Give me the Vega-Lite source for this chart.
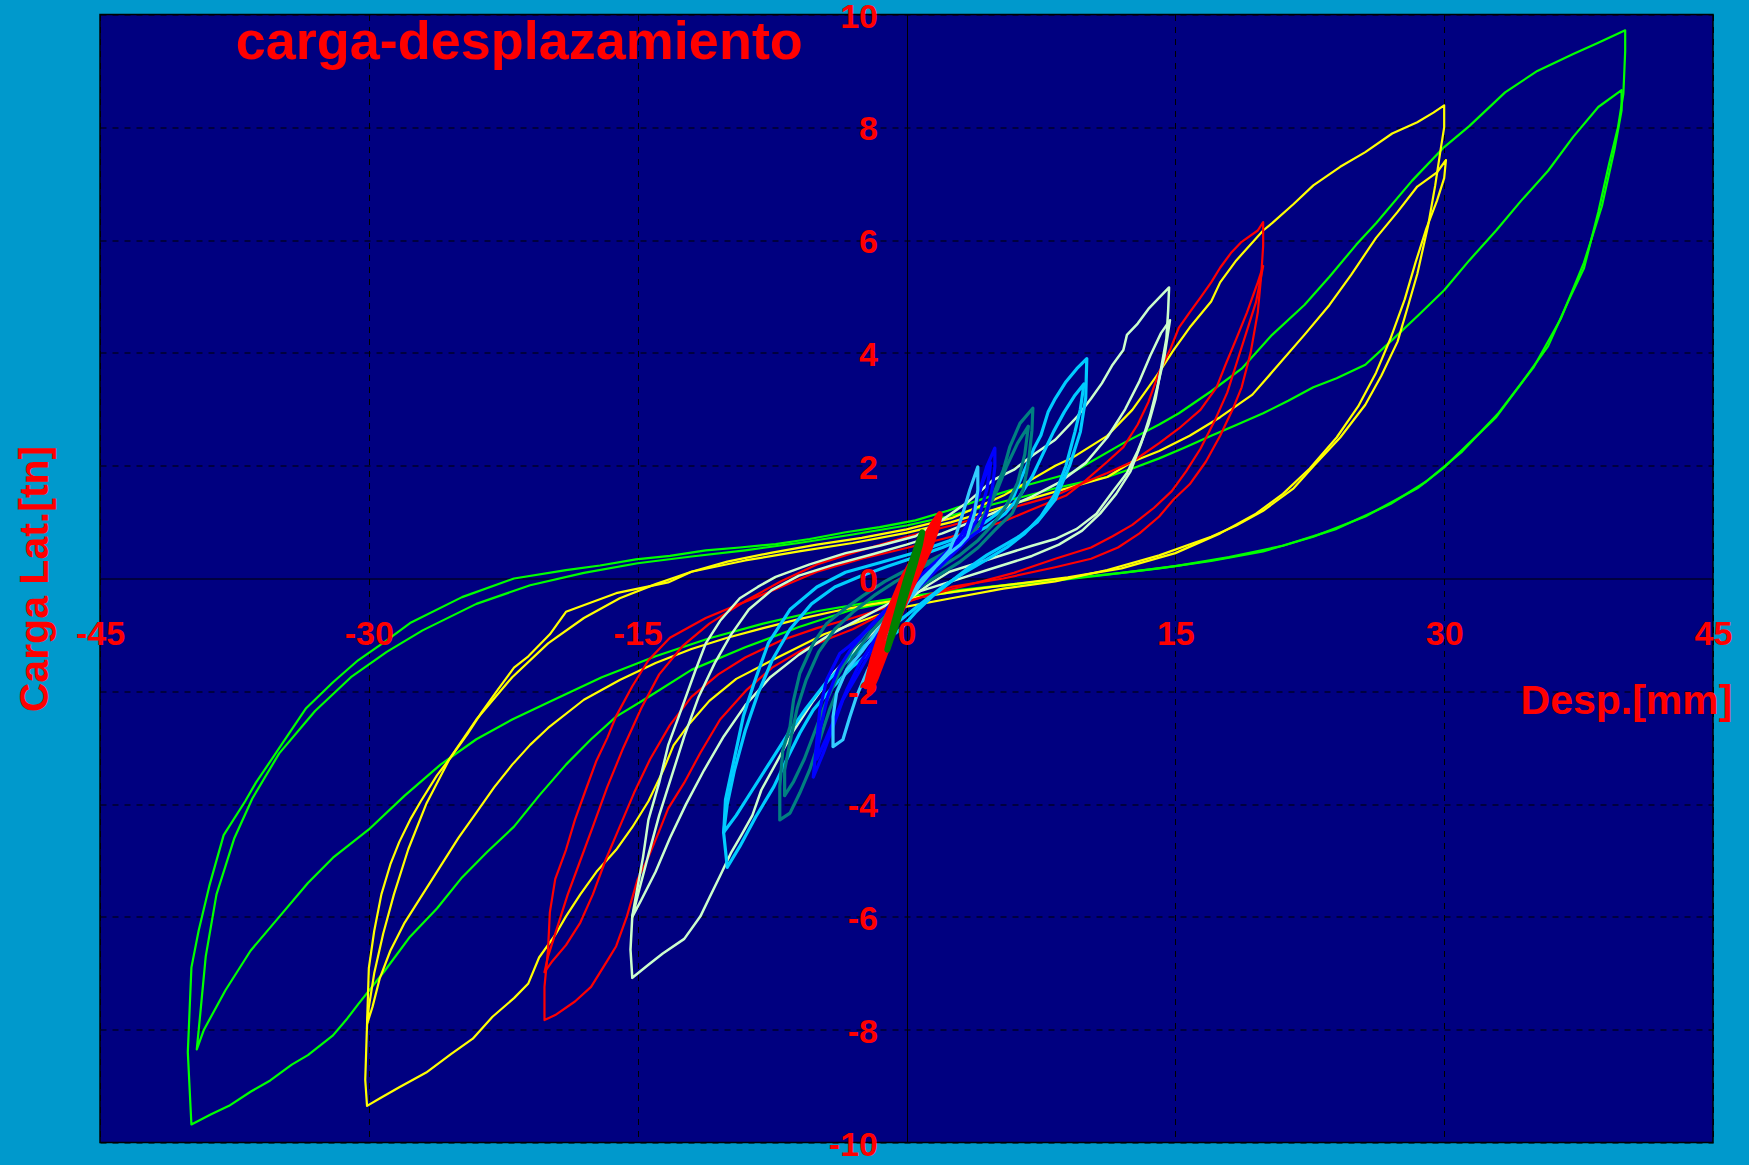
{
  "$schema": "https://vega.github.io/schema/vega-lite/v6.json",
  "width": 1613,
  "height": 1128,
  "autosize": {"type": "none"},
  "padding": {"left": 100, "top": 14.5, "right": 36, "bottom": 22.5},
  "background": "#0099CC",
  "config": {
    "view": {"fill": "#000080", "stroke": "#000000", "strokeWidth": 1.5},
    "font": "Liberation Sans"
  },
  "datasets": {
    "lazos": [
      {"serie":"40","ciclo":"40a","desp":-39.9,"carga":-9.68},{"serie":"40","ciclo":"40a","desp":-38.8,"carga":-9.5},{"serie":"40","ciclo":"40a","desp":-37.8,"carga":-9.35},{"serie":"40","ciclo":"40a","desp":-36.6,"carga":-9.1},{"serie":"40","ciclo":"40a","desp":-35.5,"carga":-8.9},{"serie":"40","ciclo":"40a","desp":-34.3,"carga":-8.62},{"serie":"40","ciclo":"40a","desp":-33.4,"carga":-8.45},{"serie":"40","ciclo":"40a","desp":-32.0,"carga":-8.1},{"serie":"40","ciclo":"40a","desp":-31.2,"carga":-7.8},{"serie":"40","ciclo":"40a","desp":-30.6,"carga":-7.55},{"serie":"40","ciclo":"40a","desp":-29.1,"carga":-6.95},{"serie":"40","ciclo":"40a","desp":-27.7,"carga":-6.35},{"serie":"40","ciclo":"40a","desp":-26.2,"carga":-5.85},{"serie":"40","ciclo":"40a","desp":-24.8,"carga":-5.3},{"serie":"40","ciclo":"40a","desp":-23.4,"carga":-4.85},{"serie":"40","ciclo":"40a","desp":-21.9,"carga":-4.4},{"serie":"40","ciclo":"40a","desp":-20.5,"carga":-3.85},{"serie":"40","ciclo":"40a","desp":-19.0,"carga":-3.3},{"serie":"40","ciclo":"40a","desp":-17.6,"carga":-2.85},{"serie":"40","ciclo":"40a","desp":-16.2,"carga":-2.45},{"serie":"40","ciclo":"40a","desp":-14.4,"carga":-2.1},{"serie":"40","ciclo":"40a","desp":-12.0,"carga":-1.62},{"serie":"40","ciclo":"40a","desp":-9.0,"carga":-1.22},{"serie":"40","ciclo":"40a","desp":-6.0,"carga":-0.86},{"serie":"40","ciclo":"40a","desp":-3.0,"carga":-0.55},{"serie":"40","ciclo":"40a","desp":0.0,"carga":-0.36},{"serie":"40","ciclo":"40a","desp":2.4,"carga":-0.25},{"serie":"40","ciclo":"40a","desp":5.0,"carga":-0.14},{"serie":"40","ciclo":"40a","desp":8.3,"carga":-0.04},{"serie":"40","ciclo":"40a","desp":11.2,"carga":0.07},{"serie":"40","ciclo":"40a","desp":14.1,"carga":0.18},{"serie":"40","ciclo":"40a","desp":17.0,"carga":0.31},{"serie":"40","ciclo":"40a","desp":19.9,"carga":0.48},{"serie":"40","ciclo":"40a","desp":22.7,"carga":0.74},{"serie":"40","ciclo":"40a","desp":25.6,"carga":1.1},{"serie":"40","ciclo":"40a","desp":28.5,"carga":1.6},{"serie":"40","ciclo":"40a","desp":30.0,"carga":1.97},{"serie":"40","ciclo":"40a","desp":31.4,"carga":2.4},{"serie":"40","ciclo":"40a","desp":32.9,"carga":2.86},{"serie":"40","ciclo":"40a","desp":34.3,"carga":3.46},{"serie":"40","ciclo":"40a","desp":35.8,"carga":4.12},{"serie":"40","ciclo":"40a","desp":36.9,"carga":4.9},{"serie":"40","ciclo":"40a","desp":37.8,"carga":5.5},{"serie":"40","ciclo":"40a","desp":38.6,"carga":6.5},{"serie":"40","ciclo":"40a","desp":39.2,"carga":7.35},{"serie":"40","ciclo":"40a","desp":39.7,"carga":8.0},{"serie":"40","ciclo":"40a","desp":40.0,"carga":8.6},{"serie":"40","ciclo":"40a","desp":40.1,"carga":9.35},{"serie":"40","ciclo":"40a","desp":40.1,"carga":9.72},{"serie":"40","ciclo":"40a","desp":38.6,"carga":9.5},{"serie":"40","ciclo":"40a","desp":37.2,"carga":9.3},{"serie":"40","ciclo":"40a","desp":35.2,"carga":9.0},{"serie":"40","ciclo":"40a","desp":33.4,"carga":8.62},{"serie":"40","ciclo":"40a","desp":31.4,"carga":8.02},{"serie":"40","ciclo":"40a","desp":30.0,"carga":7.65},{"serie":"40","ciclo":"40a","desp":28.2,"carga":7.05},{"serie":"40","ciclo":"40a","desp":26.2,"carga":6.3},{"serie":"40","ciclo":"40a","desp":25.1,"carga":5.92},{"serie":"40","ciclo":"40a","desp":23.6,"carga":5.35},{"serie":"40","ciclo":"40a","desp":22.2,"carga":4.85},{"serie":"40","ciclo":"40a","desp":20.4,"carga":4.32},{"serie":"40","ciclo":"40a","desp":18.7,"carga":3.72},{"serie":"40","ciclo":"40a","desp":17.0,"carga":3.32},{"serie":"40","ciclo":"40a","desp":15.2,"carga":2.93},{"serie":"40","ciclo":"40a","desp":14.1,"carga":2.73},{"serie":"40","ciclo":"40a","desp":12.1,"carga":2.4},{"serie":"40","ciclo":"40a","desp":9.2,"carga":1.87},{"serie":"40","ciclo":"40a","desp":6.9,"carga":1.67},{"serie":"40","ciclo":"40a","desp":4.8,"carga":1.47},{"serie":"40","ciclo":"40a","desp":2.3,"carga":1.2},{"serie":"40","ciclo":"40a","desp":0.5,"carga":1.03},{"serie":"40","ciclo":"40a","desp":-1.5,"carga":0.91},{"serie":"40","ciclo":"40a","desp":-3.4,"carga":0.82},{"serie":"40","ciclo":"40a","desp":-5.4,"carga":0.7},{"serie":"40","ciclo":"40a","desp":-7.3,"carga":0.61},{"serie":"40","ciclo":"40a","desp":-9.3,"carga":0.55},{"serie":"40","ciclo":"40a","desp":-11.2,"carga":0.5},{"serie":"40","ciclo":"40a","desp":-13.2,"carga":0.4},{"serie":"40","ciclo":"40a","desp":-15.1,"carga":0.34},{"serie":"40","ciclo":"40a","desp":-17.1,"carga":0.23},{"serie":"40","ciclo":"40a","desp":-19.0,"carga":0.15},{"serie":"40","ciclo":"40a","desp":-21.9,"carga":0.0},{"serie":"40","ciclo":"40a","desp":-24.8,"carga":-0.33},{"serie":"40","ciclo":"40a","desp":-27.7,"carga":-0.79},{"serie":"40","ciclo":"40a","desp":-29.1,"carga":-1.12},{"serie":"40","ciclo":"40a","desp":-30.6,"carga":-1.45},{"serie":"40","ciclo":"40a","desp":-32.0,"carga":-1.84},{"serie":"40","ciclo":"40a","desp":-33.5,"carga":-2.3},{"serie":"40","ciclo":"40a","desp":-34.9,"carga":-2.96},{"serie":"40","ciclo":"40a","desp":-36.3,"carga":-3.62},{"serie":"40","ciclo":"40a","desp":-36.9,"carga":-3.95},{"serie":"40","ciclo":"40a","desp":-38.1,"carga":-4.55},{"serie":"40","ciclo":"40a","desp":-38.9,"carga":-5.45},{"serie":"40","ciclo":"40a","desp":-39.5,"carga":-6.25},{"serie":"40","ciclo":"40a","desp":-39.9,"carga":-6.9},{"serie":"40","ciclo":"40a","desp":-40.1,"carga":-8.4},{"serie":"40","ciclo":"40a","desp":-39.9,"carga":-9.68},

      {"serie":"40","ciclo":"40b","desp":-39.6,"carga":-8.35},{"serie":"40","ciclo":"40b","desp":-39.2,"carga":-8.0},{"serie":"40","ciclo":"40b","desp":-38.0,"carga":-7.3},{"serie":"40","ciclo":"40b","desp":-36.6,"carga":-6.6},{"serie":"40","ciclo":"40b","desp":-35.0,"carga":-6.0},{"serie":"40","ciclo":"40b","desp":-33.4,"carga":-5.4},{"serie":"40","ciclo":"40b","desp":-32.0,"carga":-4.95},{"serie":"40","ciclo":"40b","desp":-30.0,"carga":-4.45},{"serie":"40","ciclo":"40b","desp":-28.0,"carga":-3.85},{"serie":"40","ciclo":"40b","desp":-26.0,"carga":-3.3},{"serie":"40","ciclo":"40b","desp":-24.0,"carga":-2.85},{"serie":"40","ciclo":"40b","desp":-22.0,"carga":-2.5},{"serie":"40","ciclo":"40b","desp":-20.0,"carga":-2.2},{"serie":"40","ciclo":"40b","desp":-17.0,"carga":-1.75},{"serie":"40","ciclo":"40b","desp":-14.0,"carga":-1.38},{"serie":"40","ciclo":"40b","desp":-11.0,"carga":-1.06},{"serie":"40","ciclo":"40b","desp":-8.0,"carga":-0.8},{"serie":"40","ciclo":"40b","desp":-5.0,"carga":-0.58},{"serie":"40","ciclo":"40b","desp":-2.0,"carga":-0.42},{"serie":"40","ciclo":"40b","desp":0.0,"carga":-0.32},{"serie":"40","ciclo":"40b","desp":3.0,"carga":-0.2},{"serie":"40","ciclo":"40b","desp":6.0,"carga":-0.1},{"serie":"40","ciclo":"40b","desp":9.0,"carga":0.0},{"serie":"40","ciclo":"40b","desp":12.0,"carga":0.1},{"serie":"40","ciclo":"40b","desp":15.0,"carga":0.22},{"serie":"40","ciclo":"40b","desp":18.0,"carga":0.38},{"serie":"40","ciclo":"40b","desp":21.0,"carga":0.58},{"serie":"40","ciclo":"40b","desp":24.0,"carga":0.88},{"serie":"40","ciclo":"40b","desp":27.0,"carga":1.32},{"serie":"40","ciclo":"40b","desp":29.0,"carga":1.72},{"serie":"40","ciclo":"40b","desp":31.0,"carga":2.25},{"serie":"40","ciclo":"40b","desp":33.0,"carga":2.92},{"serie":"40","ciclo":"40b","desp":35.0,"carga":3.75},{"serie":"40","ciclo":"40b","desp":36.5,"carga":4.6},{"serie":"40","ciclo":"40b","desp":37.8,"carga":5.6},{"serie":"40","ciclo":"40b","desp":38.8,"carga":6.6},{"serie":"40","ciclo":"40b","desp":39.5,"carga":7.6},{"serie":"40","ciclo":"40b","desp":39.9,"carga":8.3},{"serie":"40","ciclo":"40b","desp":39.9,"carga":8.66},{"serie":"40","ciclo":"40b","desp":38.6,"carga":8.36},{"serie":"40","ciclo":"40b","desp":37.2,"carga":7.83},{"serie":"40","ciclo":"40b","desp":35.8,"carga":7.23},{"serie":"40","ciclo":"40b","desp":34.3,"carga":6.7},{"serie":"40","ciclo":"40b","desp":32.9,"carga":6.17},{"serie":"40","ciclo":"40b","desp":31.4,"carga":5.64},{"serie":"40","ciclo":"40b","desp":30.0,"carga":5.11},{"serie":"40","ciclo":"40b","desp":28.5,"carga":4.65},{"serie":"40","ciclo":"40b","desp":27.0,"carga":4.2},{"serie":"40","ciclo":"40b","desp":25.6,"carga":3.79},{"serie":"40","ciclo":"40b","desp":24.0,"carga":3.55},{"serie":"40","ciclo":"40b","desp":22.7,"carga":3.39},{"serie":"40","ciclo":"40b","desp":21.3,"carga":3.15},{"serie":"40","ciclo":"40b","desp":19.9,"carga":2.93},{"serie":"40","ciclo":"40b","desp":18.4,"carga":2.72},{"serie":"40","ciclo":"40b","desp":17.0,"carga":2.53},{"serie":"40","ciclo":"40b","desp":15.5,"carga":2.32},{"serie":"40","ciclo":"40b","desp":14.1,"carga":2.13},{"serie":"40","ciclo":"40b","desp":12.6,"carga":1.95},{"serie":"40","ciclo":"40b","desp":11.2,"carga":1.8},{"serie":"40","ciclo":"40b","desp":9.7,"carga":1.7},{"serie":"40","ciclo":"40b","desp":8.3,"carga":1.6},{"serie":"40","ciclo":"40b","desp":6.5,"carga":1.45},{"serie":"40","ciclo":"40b","desp":5.0,"carga":1.33},{"serie":"40","ciclo":"40b","desp":2.3,"carga":1.1},{"serie":"40","ciclo":"40b","desp":0.0,"carga":0.94},{"serie":"40","ciclo":"40b","desp":-3.0,"carga":0.78},{"serie":"40","ciclo":"40b","desp":-6.0,"carga":0.63},{"serie":"40","ciclo":"40b","desp":-9.0,"carga":0.5},{"serie":"40","ciclo":"40b","desp":-12.0,"carga":0.39},{"serie":"40","ciclo":"40b","desp":-15.0,"carga":0.27},{"serie":"40","ciclo":"40b","desp":-18.0,"carga":0.1},{"serie":"40","ciclo":"40b","desp":-21.0,"carga":-0.12},{"serie":"40","ciclo":"40b","desp":-24.0,"carga":-0.45},{"serie":"40","ciclo":"40b","desp":-27.0,"carga":-0.92},{"serie":"40","ciclo":"40b","desp":-29.0,"carga":-1.3},{"serie":"40","ciclo":"40b","desp":-31.0,"carga":-1.75},{"serie":"40","ciclo":"40b","desp":-33.0,"carga":-2.35},{"serie":"40","ciclo":"40b","desp":-35.0,"carga":-3.1},{"serie":"40","ciclo":"40b","desp":-36.5,"carga":-3.9},{"serie":"40","ciclo":"40b","desp":-37.5,"carga":-4.6},{"serie":"40","ciclo":"40b","desp":-38.5,"carga":-5.6},{"serie":"40","ciclo":"40b","desp":-39.1,"carga":-6.7},{"serie":"40","ciclo":"40b","desp":-39.4,"carga":-7.7},{"serie":"40","ciclo":"40b","desp":-39.6,"carga":-8.35},

      {"serie":"30","ciclo":"30a","desp":-30.1,"carga":-9.35},{"serie":"30","ciclo":"30a","desp":-29.4,"carga":-9.22},{"serie":"30","ciclo":"30a","desp":-28.3,"carga":-9.02},{"serie":"30","ciclo":"30a","desp":-26.8,"carga":-8.76},{"serie":"30","ciclo":"30a","desp":-25.4,"carga":-8.43},{"serie":"30","ciclo":"30a","desp":-24.2,"carga":-8.16},{"serie":"30","ciclo":"30a","desp":-23.1,"carga":-7.77},{"serie":"30","ciclo":"30a","desp":-21.9,"carga":-7.44},{"serie":"30","ciclo":"30a","desp":-21.1,"carga":-7.18},{"serie":"30","ciclo":"30a","desp":-20.5,"carga":-6.72},{"serie":"30","ciclo":"30a","desp":-19.6,"carga":-6.32},{"serie":"30","ciclo":"30a","desp":-19.0,"carga":-5.99},{"serie":"30","ciclo":"30a","desp":-18.2,"carga":-5.6},{"serie":"30","ciclo":"30a","desp":-17.3,"carga":-5.2},{"serie":"30","ciclo":"30a","desp":-16.2,"carga":-4.81},{"serie":"30","ciclo":"30a","desp":-15.3,"carga":-4.41},{"serie":"30","ciclo":"30a","desp":-14.4,"carga":-3.95},{"serie":"30","ciclo":"30a","desp":-13.6,"carga":-3.42},{"serie":"30","ciclo":"30a","desp":-13.0,"carga":-2.96},{"serie":"30","ciclo":"30a","desp":-12.1,"carga":-2.57},{"serie":"30","ciclo":"30a","desp":-11.0,"carga":-2.17},{"serie":"30","ciclo":"30a","desp":-9.5,"carga":-1.78},{"serie":"30","ciclo":"30a","desp":-7.5,"carga":-1.45},{"serie":"30","ciclo":"30a","desp":-4.6,"carga":-0.99},{"serie":"30","ciclo":"30a","desp":-1.7,"carga":-0.66},{"serie":"30","ciclo":"30a","desp":0.0,"carga":-0.5},{"serie":"30","ciclo":"30a","desp":2.5,"carga":-0.35},{"serie":"30","ciclo":"30a","desp":5.4,"carga":-0.18},{"serie":"30","ciclo":"30a","desp":8.3,"carga":-0.05},{"serie":"30","ciclo":"30a","desp":11.2,"carga":0.15},{"serie":"30","ciclo":"30a","desp":14.1,"carga":0.41},{"serie":"30","ciclo":"30a","desp":17.0,"carga":0.74},{"serie":"30","ciclo":"30a","desp":18.4,"carga":0.94},{"serie":"30","ciclo":"30a","desp":19.9,"carga":1.2},{"serie":"30","ciclo":"30a","desp":21.6,"carga":1.6},{"serie":"30","ciclo":"30a","desp":22.7,"carga":1.99},{"serie":"30","ciclo":"30a","desp":24.2,"carga":2.5},{"serie":"30","ciclo":"30a","desp":25.6,"carga":3.08},{"serie":"30","ciclo":"30a","desp":26.5,"carga":3.6},{"serie":"30","ciclo":"30a","desp":27.4,"carga":4.2},{"serie":"30","ciclo":"30a","desp":28.0,"carga":4.85},{"serie":"30","ciclo":"30a","desp":28.5,"carga":5.4},{"serie":"30","ciclo":"30a","desp":29.1,"carga":6.25},{"serie":"30","ciclo":"30a","desp":29.5,"carga":6.97},{"serie":"30","ciclo":"30a","desp":29.8,"carga":7.6},{"serie":"30","ciclo":"30a","desp":30.0,"carga":8.0},{"serie":"30","ciclo":"30a","desp":30.0,"carga":8.39},{"serie":"30","ciclo":"30a","desp":29.4,"carga":8.26},{"serie":"30","ciclo":"30a","desp":28.5,"carga":8.09},{"serie":"30","ciclo":"30a","desp":27.1,"carga":7.89},{"serie":"30","ciclo":"30a","desp":25.6,"carga":7.56},{"serie":"30","ciclo":"30a","desp":24.2,"carga":7.3},{"serie":"30","ciclo":"30a","desp":22.7,"carga":6.97},{"serie":"30","ciclo":"30a","desp":21.6,"carga":6.64},{"serie":"30","ciclo":"30a","desp":20.4,"carga":6.3},{"serie":"30","ciclo":"30a","desp":19.9,"carga":6.17},{"serie":"30","ciclo":"30a","desp":18.4,"carga":5.64},{"serie":"30","ciclo":"30a","desp":17.5,"carga":5.25},{"serie":"30","ciclo":"30a","desp":17.0,"carga":4.91},{"serie":"30","ciclo":"30a","desp":15.8,"carga":4.45},{"serie":"30","ciclo":"30a","desp":14.9,"carga":4.05},{"serie":"30","ciclo":"30a","desp":14.1,"carga":3.66},{"serie":"30","ciclo":"30a","desp":13.5,"carga":3.39},{"serie":"30","ciclo":"30a","desp":12.6,"carga":2.99},{"serie":"30","ciclo":"30a","desp":11.2,"carga":2.53},{"serie":"30","ciclo":"30a","desp":9.2,"carga":2.13},{"serie":"30","ciclo":"30a","desp":8.3,"carga":2.0},{"serie":"30","ciclo":"30a","desp":6.9,"carga":1.74},{"serie":"30","ciclo":"30a","desp":5.4,"carga":1.47},{"serie":"30","ciclo":"30a","desp":4.0,"carga":1.27},{"serie":"30","ciclo":"30a","desp":2.5,"carga":1.07},{"serie":"30","ciclo":"30a","desp":0.0,"carga":0.87},{"serie":"30","ciclo":"30a","desp":-2.5,"carga":0.72},{"serie":"30","ciclo":"30a","desp":-5.0,"carga":0.6},{"serie":"30","ciclo":"30a","desp":-7.5,"carga":0.46},{"serie":"30","ciclo":"30a","desp":-10.0,"carga":0.3},{"serie":"30","ciclo":"30a","desp":-12.0,"carga":0.12},{"serie":"30","ciclo":"30a","desp":-13.3,"carga":-0.07},{"serie":"30","ciclo":"30a","desp":-16.2,"carga":-0.26},{"serie":"30","ciclo":"30a","desp":-19.0,"carga":-0.59},{"serie":"30","ciclo":"30a","desp":-19.9,"carga":-0.99},{"serie":"30","ciclo":"30a","desp":-21.1,"carga":-1.38},{"serie":"30","ciclo":"30a","desp":-21.9,"carga":-1.58},{"serie":"30","ciclo":"30a","desp":-22.8,"carga":-1.97},{"serie":"30","ciclo":"30a","desp":-23.7,"carga":-2.37},{"serie":"30","ciclo":"30a","desp":-24.5,"carga":-2.76},{"serie":"30","ciclo":"30a","desp":-25.4,"carga":-3.16},{"serie":"30","ciclo":"30a","desp":-26.2,"carga":-3.49},{"serie":"30","ciclo":"30a","desp":-27.1,"carga":-3.95},{"serie":"30","ciclo":"30a","desp":-27.7,"carga":-4.28},{"serie":"30","ciclo":"30a","desp":-28.3,"carga":-4.67},{"serie":"30","ciclo":"30a","desp":-28.8,"carga":-5.07},{"serie":"30","ciclo":"30a","desp":-29.3,"carga":-5.6},{"serie":"30","ciclo":"30a","desp":-29.7,"carga":-6.25},{"serie":"30","ciclo":"30a","desp":-30.0,"carga":-6.91},{"serie":"30","ciclo":"30a","desp":-30.1,"carga":-7.9},{"serie":"30","ciclo":"30a","desp":-30.2,"carga":-8.89},{"serie":"30","ciclo":"30a","desp":-30.1,"carga":-9.35},

      {"serie":"30","ciclo":"30b","desp":-30.1,"carga":-7.9},{"serie":"30","ciclo":"30b","desp":-29.8,"carga":-7.6},{"serie":"30","ciclo":"30b","desp":-29.4,"carga":-7.1},{"serie":"30","ciclo":"30b","desp":-28.8,"carga":-6.6},{"serie":"30","ciclo":"30b","desp":-28.0,"carga":-6.1},{"serie":"30","ciclo":"30b","desp":-27.0,"carga":-5.6},{"serie":"30","ciclo":"30b","desp":-26.0,"carga":-5.1},{"serie":"30","ciclo":"30b","desp":-25.0,"carga":-4.6},{"serie":"30","ciclo":"30b","desp":-24.0,"carga":-4.15},{"serie":"30","ciclo":"30b","desp":-23.0,"carga":-3.7},{"serie":"30","ciclo":"30b","desp":-22.0,"carga":-3.3},{"serie":"30","ciclo":"30b","desp":-21.0,"carga":-2.95},{"serie":"30","ciclo":"30b","desp":-20.0,"carga":-2.65},{"serie":"30","ciclo":"30b","desp":-18.0,"carga":-2.15},{"serie":"30","ciclo":"30b","desp":-16.0,"carga":-1.8},{"serie":"30","ciclo":"30b","desp":-14.0,"carga":-1.5},{"serie":"30","ciclo":"30b","desp":-12.0,"carga":-1.25},{"serie":"30","ciclo":"30b","desp":-10.0,"carga":-1.05},{"serie":"30","ciclo":"30b","desp":-8.0,"carga":-0.88},{"serie":"30","ciclo":"30b","desp":-6.0,"carga":-0.72},{"serie":"30","ciclo":"30b","desp":-4.0,"carga":-0.58},{"serie":"30","ciclo":"30b","desp":-2.0,"carga":-0.46},{"serie":"30","ciclo":"30b","desp":0.0,"carga":-0.36},{"serie":"30","ciclo":"30b","desp":3.0,"carga":-0.22},{"serie":"30","ciclo":"30b","desp":6.0,"carga":-0.1},{"serie":"30","ciclo":"30b","desp":9.0,"carga":0.02},{"serie":"30","ciclo":"30b","desp":12.0,"carga":0.18},{"serie":"30","ciclo":"30b","desp":15.0,"carga":0.45},{"serie":"30","ciclo":"30b","desp":17.5,"carga":0.8},{"serie":"30","ciclo":"30b","desp":19.5,"carga":1.15},{"serie":"30","ciclo":"30b","desp":21.0,"carga":1.5},{"serie":"30","ciclo":"30b","desp":22.5,"carga":1.95},{"serie":"30","ciclo":"30b","desp":24.0,"carga":2.5},{"serie":"30","ciclo":"30b","desp":25.2,"carga":3.05},{"serie":"30","ciclo":"30b","desp":26.2,"carga":3.65},{"serie":"30","ciclo":"30b","desp":27.0,"carga":4.25},{"serie":"30","ciclo":"30b","desp":27.8,"carga":4.95},{"serie":"30","ciclo":"30b","desp":28.4,"carga":5.6},{"serie":"30","ciclo":"30b","desp":29.0,"carga":6.2},{"serie":"30","ciclo":"30b","desp":29.6,"carga":6.7},{"serie":"30","ciclo":"30b","desp":30.0,"carga":7.1},{"serie":"30","ciclo":"30b","desp":30.1,"carga":7.42},{"serie":"30","ciclo":"30b","desp":29.6,"carga":7.2},{"serie":"30","ciclo":"30b","desp":28.5,"carga":6.95},{"serie":"30","ciclo":"30b","desp":27.4,"carga":6.5},{"serie":"30","ciclo":"30b","desp":26.2,"carga":6.04},{"serie":"30","ciclo":"30b","desp":24.8,"carga":5.38},{"serie":"30","ciclo":"30b","desp":23.6,"carga":4.85},{"serie":"30","ciclo":"30b","desp":22.2,"carga":4.32},{"serie":"30","ciclo":"30b","desp":20.4,"carga":3.66},{"serie":"30","ciclo":"30b","desp":19.3,"carga":3.26},{"serie":"30","ciclo":"30b","desp":17.5,"carga":2.86},{"serie":"30","ciclo":"30b","desp":15.8,"carga":2.53},{"serie":"30","ciclo":"30b","desp":14.1,"carga":2.26},{"serie":"30","ciclo":"30b","desp":12.6,"carga":2.07},{"serie":"30","ciclo":"30b","desp":11.2,"carga":1.8},{"serie":"30","ciclo":"30b","desp":8.3,"carga":1.54},{"serie":"30","ciclo":"30b","desp":5.4,"carga":1.27},{"serie":"30","ciclo":"30b","desp":2.5,"carga":1.0},{"serie":"30","ciclo":"30b","desp":0.0,"carga":0.81},{"serie":"30","ciclo":"30b","desp":-3.0,"carga":0.63},{"serie":"30","ciclo":"30b","desp":-6.0,"carga":0.48},{"serie":"30","ciclo":"30b","desp":-9.0,"carga":0.32},{"serie":"30","ciclo":"30b","desp":-12.0,"carga":0.12},{"serie":"30","ciclo":"30b","desp":-14.0,"carga":-0.1},{"serie":"30","ciclo":"30b","desp":-16.0,"carga":-0.35},{"serie":"30","ciclo":"30b","desp":-18.0,"carga":-0.7},{"serie":"30","ciclo":"30b","desp":-20.0,"carga":-1.15},{"serie":"30","ciclo":"30b","desp":-22.0,"carga":-1.75},{"serie":"30","ciclo":"30b","desp":-24.0,"carga":-2.5},{"serie":"30","ciclo":"30b","desp":-25.5,"carga":-3.2},{"serie":"30","ciclo":"30b","desp":-26.8,"carga":-4.0},{"serie":"30","ciclo":"30b","desp":-27.8,"carga":-4.8},{"serie":"30","ciclo":"30b","desp":-28.6,"carga":-5.6},{"serie":"30","ciclo":"30b","desp":-29.2,"carga":-6.3},{"serie":"30","ciclo":"30b","desp":-29.7,"carga":-7.0},{"serie":"30","ciclo":"30b","desp":-30.0,"carga":-7.6},{"serie":"30","ciclo":"30b","desp":-30.1,"carga":-7.9},

      {"serie":"20","ciclo":"20a","desp":-20.2,"carga":-7.83},{"serie":"20","ciclo":"20a","desp":-19.6,"carga":-7.74},{"serie":"20","ciclo":"20a","desp":-18.5,"carga":-7.5},{"serie":"20","ciclo":"20a","desp":-17.6,"carga":-7.24},{"serie":"20","ciclo":"20a","desp":-16.7,"carga":-6.78},{"serie":"20","ciclo":"20a","desp":-16.2,"carga":-6.52},{"serie":"20","ciclo":"20a","desp":-15.6,"carga":-5.99},{"serie":"20","ciclo":"20a","desp":-15.0,"carga":-5.33},{"serie":"20","ciclo":"20a","desp":-14.4,"carga":-4.94},{"serie":"20","ciclo":"20a","desp":-13.8,"carga":-4.48},{"serie":"20","ciclo":"20a","desp":-13.3,"carga":-4.08},{"serie":"20","ciclo":"20a","desp":-12.4,"carga":-3.62},{"serie":"20","ciclo":"20a","desp":-11.5,"carga":-3.09},{"serie":"20","ciclo":"20a","desp":-10.4,"carga":-2.5},{"serie":"20","ciclo":"20a","desp":-8.9,"carga":-1.97},{"serie":"20","ciclo":"20a","desp":-7.5,"carga":-1.58},{"serie":"20","ciclo":"20a","desp":-6.0,"carga":-1.3},{"serie":"20","ciclo":"20a","desp":-4.6,"carga":-1.1},{"serie":"20","ciclo":"20a","desp":-3.0,"carga":-0.9},{"serie":"20","ciclo":"20a","desp":-1.5,"carga":-0.65},{"serie":"20","ciclo":"20a","desp":0.0,"carga":-0.42},{"serie":"20","ciclo":"20a","desp":2.5,"carga":-0.15},{"serie":"20","ciclo":"20a","desp":5.4,"carga":0.0},{"serie":"20","ciclo":"20a","desp":8.3,"carga":0.2},{"serie":"20","ciclo":"20a","desp":10.3,"carga":0.35},{"serie":"20","ciclo":"20a","desp":11.8,"carga":0.55},{"serie":"20","ciclo":"20a","desp":13.0,"carga":0.8},{"serie":"20","ciclo":"20a","desp":14.1,"carga":1.1},{"serie":"20","ciclo":"20a","desp":14.9,"carga":1.4},{"serie":"20","ciclo":"20a","desp":15.8,"carga":1.67},{"serie":"20","ciclo":"20a","desp":16.7,"carga":2.07},{"serie":"20","ciclo":"20a","desp":17.5,"carga":2.53},{"serie":"20","ciclo":"20a","desp":18.2,"carga":3.0},{"serie":"20","ciclo":"20a","desp":18.7,"carga":3.39},{"serie":"20","ciclo":"20a","desp":19.2,"carga":4.0},{"serie":"20","ciclo":"20a","desp":19.6,"carga":4.72},{"serie":"20","ciclo":"20a","desp":19.8,"carga":5.4},{"serie":"20","ciclo":"20a","desp":19.9,"carga":5.9},{"serie":"20","ciclo":"20a","desp":19.9,"carga":6.32},{"serie":"20","ciclo":"20a","desp":19.6,"carga":6.17},{"serie":"20","ciclo":"20a","desp":18.7,"carga":5.97},{"serie":"20","ciclo":"20a","desp":18.1,"carga":5.77},{"serie":"20","ciclo":"20a","desp":17.5,"carga":5.51},{"serie":"20","ciclo":"20a","desp":17.0,"carga":5.25},{"serie":"20","ciclo":"20a","desp":16.4,"carga":4.98},{"serie":"20","ciclo":"20a","desp":15.8,"carga":4.72},{"serie":"20","ciclo":"20a","desp":15.2,"carga":4.45},{"serie":"20","ciclo":"20a","desp":14.7,"carga":4.05},{"serie":"20","ciclo":"20a","desp":14.1,"carga":3.66},{"serie":"20","ciclo":"20a","desp":13.5,"carga":3.13},{"serie":"20","ciclo":"20a","desp":12.9,"carga":2.73},{"serie":"20","ciclo":"20a","desp":12.1,"carga":2.33},{"serie":"20","ciclo":"20a","desp":11.2,"carga":2.07},{"serie":"20","ciclo":"20a","desp":10.0,"carga":1.74},{"serie":"20","ciclo":"20a","desp":8.9,"carga":1.47},{"serie":"20","ciclo":"20a","desp":6.9,"carga":1.21},{"serie":"20","ciclo":"20a","desp":5.4,"carga":1.01},{"serie":"20","ciclo":"20a","desp":4.0,"carga":0.87},{"serie":"20","ciclo":"20a","desp":2.5,"carga":0.74},{"serie":"20","ciclo":"20a","desp":0.0,"carga":0.54},{"serie":"20","ciclo":"20a","desp":-2.5,"carga":0.35},{"serie":"20","ciclo":"20a","desp":-5.0,"carga":0.12},{"serie":"20","ciclo":"20a","desp":-7.3,"carga":-0.19},{"serie":"20","ciclo":"20a","desp":-9.3,"carga":-0.45},{"serie":"20","ciclo":"20a","desp":-11.2,"carga":-0.7},{"serie":"20","ciclo":"20a","desp":-13.2,"carga":-1.05},{"serie":"20","ciclo":"20a","desp":-14.4,"carga":-1.45},{"serie":"20","ciclo":"20a","desp":-15.3,"carga":-1.91},{"serie":"20","ciclo":"20a","desp":-16.2,"carga":-2.44},{"serie":"20","ciclo":"20a","desp":-16.7,"carga":-2.83},{"serie":"20","ciclo":"20a","desp":-17.3,"carga":-3.23},{"serie":"20","ciclo":"20a","desp":-17.9,"carga":-3.75},{"serie":"20","ciclo":"20a","desp":-18.5,"carga":-4.28},{"serie":"20","ciclo":"20a","desp":-19.0,"carga":-4.81},{"serie":"20","ciclo":"20a","desp":-19.6,"carga":-5.33},{"serie":"20","ciclo":"20a","desp":-19.9,"carga":-5.92},{"serie":"20","ciclo":"20a","desp":-20.0,"carga":-6.58},{"serie":"20","ciclo":"20a","desp":-20.2,"carga":-7.24},{"serie":"20","ciclo":"20a","desp":-20.2,"carga":-7.83},

      {"serie":"20","ciclo":"20b","desp":-20.2,"carga":-6.98},{"serie":"20","ciclo":"20b","desp":-19.8,"carga":-6.8},{"serie":"20","ciclo":"20b","desp":-19.0,"carga":-6.5},{"serie":"20","ciclo":"20b","desp":-18.2,"carga":-6.1},{"serie":"20","ciclo":"20b","desp":-17.5,"carga":-5.6},{"serie":"20","ciclo":"20b","desp":-16.8,"carga":-5.0},{"serie":"20","ciclo":"20b","desp":-16.0,"carga":-4.4},{"serie":"20","ciclo":"20b","desp":-15.2,"carga":-3.8},{"serie":"20","ciclo":"20b","desp":-14.3,"carga":-3.2},{"serie":"20","ciclo":"20b","desp":-13.2,"carga":-2.6},{"serie":"20","ciclo":"20b","desp":-12.0,"carga":-2.1},{"serie":"20","ciclo":"20b","desp":-10.5,"carga":-1.7},{"serie":"20","ciclo":"20b","desp":-9.0,"carga":-1.4},{"serie":"20","ciclo":"20b","desp":-7.0,"carga":-1.1},{"serie":"20","ciclo":"20b","desp":-5.0,"carga":-0.88},{"serie":"20","ciclo":"20b","desp":-3.0,"carga":-0.7},{"serie":"20","ciclo":"20b","desp":-1.0,"carga":-0.5},{"serie":"20","ciclo":"20b","desp":1.0,"carga":-0.32},{"serie":"20","ciclo":"20b","desp":3.0,"carga":-0.15},{"serie":"20","ciclo":"20b","desp":6.0,"carga":0.1},{"serie":"20","ciclo":"20b","desp":8.3,"carga":0.35},{"serie":"20","ciclo":"20b","desp":10.3,"carga":0.55},{"serie":"20","ciclo":"20b","desp":11.5,"carga":0.75},{"serie":"20","ciclo":"20b","desp":12.6,"carga":0.95},{"serie":"20","ciclo":"20b","desp":13.8,"carga":1.25},{"serie":"20","ciclo":"20b","desp":14.8,"carga":1.55},{"serie":"20","ciclo":"20b","desp":15.6,"carga":1.9},{"serie":"20","ciclo":"20b","desp":16.4,"carga":2.3},{"serie":"20","ciclo":"20b","desp":17.2,"carga":2.8},{"serie":"20","ciclo":"20b","desp":17.9,"carga":3.3},{"serie":"20","ciclo":"20b","desp":18.5,"carga":3.9},{"serie":"20","ciclo":"20b","desp":19.0,"carga":4.4},{"serie":"20","ciclo":"20b","desp":19.5,"carga":4.9},{"serie":"20","ciclo":"20b","desp":19.9,"carga":5.54},{"serie":"20","ciclo":"20b","desp":19.6,"carga":5.25},{"serie":"20","ciclo":"20b","desp":19.0,"carga":4.72},{"serie":"20","ciclo":"20b","desp":18.4,"carga":4.25},{"serie":"20","ciclo":"20b","desp":17.8,"carga":3.79},{"serie":"20","ciclo":"20b","desp":17.3,"carga":3.39},{"serie":"20","ciclo":"20b","desp":16.4,"carga":2.99},{"serie":"20","ciclo":"20b","desp":15.2,"carga":2.66},{"serie":"20","ciclo":"20b","desp":14.1,"carga":2.4},{"serie":"20","ciclo":"20b","desp":12.6,"carga":2.07},{"serie":"20","ciclo":"20b","desp":11.2,"carga":1.87},{"serie":"20","ciclo":"20b","desp":9.7,"carga":1.67},{"serie":"20","ciclo":"20b","desp":8.3,"carga":1.47},{"serie":"20","ciclo":"20b","desp":5.4,"carga":1.21},{"serie":"20","ciclo":"20b","desp":2.5,"carga":0.94},{"serie":"20","ciclo":"20b","desp":0.0,"carga":0.74},{"serie":"20","ciclo":"20b","desp":-2.5,"carga":0.5},{"serie":"20","ciclo":"20b","desp":-5.0,"carga":0.25},{"serie":"20","ciclo":"20b","desp":-7.0,"carga":-0.05},{"serie":"20","ciclo":"20b","desp":-9.0,"carga":-0.4},{"serie":"20","ciclo":"20b","desp":-11.0,"carga":-0.8},{"serie":"20","ciclo":"20b","desp":-12.5,"carga":-1.2},{"serie":"20","ciclo":"20b","desp":-13.8,"carga":-1.7},{"serie":"20","ciclo":"20b","desp":-14.8,"carga":-2.3},{"serie":"20","ciclo":"20b","desp":-15.8,"carga":-3.0},{"serie":"20","ciclo":"20b","desp":-16.7,"carga":-3.7},{"serie":"20","ciclo":"20b","desp":-17.5,"carga":-4.4},{"serie":"20","ciclo":"20b","desp":-18.2,"carga":-5.0},{"serie":"20","ciclo":"20b","desp":-18.9,"carga":-5.6},{"serie":"20","ciclo":"20b","desp":-19.5,"carga":-6.2},{"serie":"20","ciclo":"20b","desp":-20.0,"carga":-6.7},{"serie":"20","ciclo":"20b","desp":-20.2,"carga":-6.98},

      {"serie":"15","ciclo":"15a","desp":-15.3,"carga":-7.08},{"serie":"15","ciclo":"15a","desp":-14.4,"carga":-6.85},{"serie":"15","ciclo":"15a","desp":-13.6,"carga":-6.65},{"serie":"15","ciclo":"15a","desp":-12.4,"carga":-6.39},{"serie":"15","ciclo":"15a","desp":-11.5,"carga":-5.99},{"serie":"15","ciclo":"15a","desp":-11.0,"carga":-5.66},{"serie":"15","ciclo":"15a","desp":-10.4,"carga":-5.27},{"serie":"15","ciclo":"15a","desp":-9.8,"carga":-4.87},{"serie":"15","ciclo":"15a","desp":-9.2,"carga":-4.54},{"serie":"15","ciclo":"15a","desp":-8.6,"carga":-4.2},{"serie":"15","ciclo":"15a","desp":-8.1,"carga":-3.75},{"serie":"15","ciclo":"15a","desp":-7.2,"carga":-3.23},{"serie":"15","ciclo":"15a","desp":-6.3,"carga":-2.7},{"serie":"15","ciclo":"15a","desp":-5.2,"carga":-2.17},{"serie":"15","ciclo":"15a","desp":-4.0,"carga":-1.65},{"serie":"15","ciclo":"15a","desp":-2.6,"carga":-1.18},{"serie":"15","ciclo":"15a","desp":-1.2,"carga":-0.75},{"serie":"15","ciclo":"15a","desp":0.0,"carga":-0.4},{"serie":"15","ciclo":"15a","desp":1.2,"carga":-0.12},{"serie":"15","ciclo":"15a","desp":2.4,"carga":0.12},{"serie":"15","ciclo":"15a","desp":4.0,"carga":0.28},{"serie":"15","ciclo":"15a","desp":5.4,"carga":0.42},{"serie":"15","ciclo":"15a","desp":7.0,"carga":0.58},{"serie":"15","ciclo":"15a","desp":8.3,"carga":0.7},{"serie":"15","ciclo":"15a","desp":9.5,"carga":0.88},{"serie":"15","ciclo":"15a","desp":10.6,"carga":1.15},{"serie":"15","ciclo":"15a","desp":11.5,"carga":1.54},{"serie":"15","ciclo":"15a","desp":12.3,"carga":1.87},{"serie":"15","ciclo":"15a","desp":12.9,"carga":2.26},{"serie":"15","ciclo":"15a","desp":13.5,"carga":2.73},{"serie":"15","ciclo":"15a","desp":13.9,"carga":3.19},{"serie":"15","ciclo":"15a","desp":14.2,"carga":3.72},{"serie":"15","ciclo":"15a","desp":14.5,"carga":4.25},{"serie":"15","ciclo":"15a","desp":14.6,"carga":4.75},{"serie":"15","ciclo":"15a","desp":14.65,"carga":5.16},{"serie":"15","ciclo":"15a","desp":14.1,"carga":4.98},{"serie":"15","ciclo":"15a","desp":13.5,"carga":4.78},{"serie":"15","ciclo":"15a","desp":12.9,"carga":4.52},{"serie":"15","ciclo":"15a","desp":12.3,"carga":4.32},{"serie":"15","ciclo":"15a","desp":12.1,"carga":4.05},{"serie":"15","ciclo":"15a","desp":11.5,"carga":3.79},{"serie":"15","ciclo":"15a","desp":10.9,"carga":3.46},{"serie":"15","ciclo":"15a","desp":10.3,"carga":3.19},{"serie":"15","ciclo":"15a","desp":9.5,"carga":2.86},{"serie":"15","ciclo":"15a","desp":8.3,"carga":2.46},{"serie":"15","ciclo":"15a","desp":7.1,"carga":2.2},{"serie":"15","ciclo":"15a","desp":6.0,"carga":1.93},{"serie":"15","ciclo":"15a","desp":4.8,"carga":1.74},{"serie":"15","ciclo":"15a","desp":3.4,"carga":1.35},{"serie":"15","ciclo":"15a","desp":1.9,"carga":1.02},{"serie":"15","ciclo":"15a","desp":0.5,"carga":0.75},{"serie":"15","ciclo":"15a","desp":-1.5,"carga":0.58},{"serie":"15","ciclo":"15a","desp":-3.4,"carga":0.45},{"serie":"15","ciclo":"15a","desp":-5.4,"carga":0.25},{"serie":"15","ciclo":"15a","desp":-7.3,"carga":0.03},{"serie":"15","ciclo":"15a","desp":-8.3,"carga":-0.15},{"serie":"15","ciclo":"15a","desp":-9.3,"carga":-0.35},{"serie":"15","ciclo":"15a","desp":-10.4,"carga":-0.75},{"serie":"15","ciclo":"15a","desp":-11.2,"carga":-1.15},{"serie":"15","ciclo":"15a","desp":-11.8,"carga":-1.65},{"serie":"15","ciclo":"15a","desp":-12.7,"carga":-2.44},{"serie":"15","ciclo":"15a","desp":-13.3,"carga":-2.96},{"serie":"15","ciclo":"15a","desp":-13.8,"carga":-3.62},{"serie":"15","ciclo":"15a","desp":-14.4,"carga":-4.28},{"serie":"15","ciclo":"15a","desp":-14.7,"carga":-4.94},{"serie":"15","ciclo":"15a","desp":-15.0,"carga":-5.46},{"serie":"15","ciclo":"15a","desp":-15.3,"carga":-5.99},{"serie":"15","ciclo":"15a","desp":-15.4,"carga":-6.58},{"serie":"15","ciclo":"15a","desp":-15.3,"carga":-7.08},

      {"serie":"15","ciclo":"15b","desp":-15.3,"carga":-6.0},{"serie":"15","ciclo":"15b","desp":-14.8,"carga":-5.7},{"serie":"15","ciclo":"15b","desp":-14.0,"carga":-5.2},{"serie":"15","ciclo":"15b","desp":-13.2,"carga":-4.6},{"serie":"15","ciclo":"15b","desp":-12.3,"carga":-4.0},{"serie":"15","ciclo":"15b","desp":-11.3,"carga":-3.4},{"serie":"15","ciclo":"15b","desp":-10.2,"carga":-2.8},{"serie":"15","ciclo":"15b","desp":-9.0,"carga":-2.25},{"serie":"15","ciclo":"15b","desp":-7.6,"carga":-1.75},{"serie":"15","ciclo":"15b","desp":-6.0,"carga":-1.35},{"serie":"15","ciclo":"15b","desp":-4.3,"carga":-1.0},{"serie":"15","ciclo":"15b","desp":-2.5,"carga":-0.7},{"serie":"15","ciclo":"15b","desp":-1.0,"carga":-0.45},{"serie":"15","ciclo":"15b","desp":0.5,"carga":-0.25},{"serie":"15","ciclo":"15b","desp":2.5,"carga":-0.05},{"serie":"15","ciclo":"15b","desp":5.0,"carga":0.2},{"serie":"15","ciclo":"15b","desp":7.0,"carga":0.4},{"serie":"15","ciclo":"15b","desp":8.5,"carga":0.6},{"serie":"15","ciclo":"15b","desp":9.8,"carga":0.85},{"serie":"15","ciclo":"15b","desp":10.8,"carga":1.15},{"serie":"15","ciclo":"15b","desp":11.7,"carga":1.5},{"serie":"15","ciclo":"15b","desp":12.5,"carga":1.9},{"serie":"15","ciclo":"15b","desp":13.1,"carga":2.4},{"serie":"15","ciclo":"15b","desp":13.6,"carga":2.9},{"serie":"15","ciclo":"15b","desp":14.0,"carga":3.4},{"serie":"15","ciclo":"15b","desp":14.4,"carga":3.95},{"serie":"15","ciclo":"15b","desp":14.7,"carga":4.58},{"serie":"15","ciclo":"15b","desp":14.2,"carga":4.35},{"serie":"15","ciclo":"15b","desp":13.6,"carga":3.95},{"serie":"15","ciclo":"15b","desp":13.0,"carga":3.5},{"serie":"15","ciclo":"15b","desp":12.2,"carga":3.0},{"serie":"15","ciclo":"15b","desp":11.2,"carga":2.5},{"serie":"15","ciclo":"15b","desp":10.0,"carga":2.05},{"serie":"15","ciclo":"15b","desp":8.5,"carga":1.7},{"serie":"15","ciclo":"15b","desp":7.0,"carga":1.45},{"serie":"15","ciclo":"15b","desp":5.5,"carga":1.25},{"serie":"15","ciclo":"15b","desp":4.0,"carga":1.05},{"serie":"15","ciclo":"15b","desp":2.0,"carga":0.8},{"serie":"15","ciclo":"15b","desp":0.0,"carga":0.6},{"serie":"15","ciclo":"15b","desp":-2.0,"carga":0.42},{"serie":"15","ciclo":"15b","desp":-4.0,"carga":0.25},{"serie":"15","ciclo":"15b","desp":-6.0,"carga":0.05},{"serie":"15","ciclo":"15b","desp":-7.5,"carga":-0.2},{"serie":"15","ciclo":"15b","desp":-8.8,"carga":-0.55},{"serie":"15","ciclo":"15b","desp":-9.8,"carga":-1.0},{"serie":"15","ciclo":"15b","desp":-10.7,"carga":-1.5},{"serie":"15","ciclo":"15b","desp":-11.6,"carga":-2.1},{"serie":"15","ciclo":"15b","desp":-12.4,"carga":-2.8},{"serie":"15","ciclo":"15b","desp":-13.1,"carga":-3.5},{"serie":"15","ciclo":"15b","desp":-13.8,"carga":-4.2},{"serie":"15","ciclo":"15b","desp":-14.4,"carga":-4.9},{"serie":"15","ciclo":"15b","desp":-14.9,"carga":-5.5},{"serie":"15","ciclo":"15b","desp":-15.3,"carga":-6.0},

      {"serie":"10","ciclo":"10a","desp":-10.0,"carga":-5.12},{"serie":"10","ciclo":"10a","desp":-9.3,"carga":-4.75},{"serie":"10","ciclo":"10a","desp":-8.4,"carga":-4.22},{"serie":"10","ciclo":"10a","desp":-7.4,"carga":-3.69},{"serie":"10","ciclo":"10a","desp":-6.7,"carga":-3.22},{"serie":"10","ciclo":"10a","desp":-5.95,"carga":-2.74},{"serie":"10","ciclo":"10a","desp":-5.2,"carga":-2.33},{"serie":"10","ciclo":"10a","desp":-4.1,"carga":-1.92},{"serie":"10","ciclo":"10a","desp":-3.0,"carga":-1.56},{"serie":"10","ciclo":"10a","desp":-1.7,"carga":-1.21},{"serie":"10","ciclo":"10a","desp":-0.4,"carga":-0.92},{"serie":"10","ciclo":"10a","desp":0.5,"carga":-0.6},{"serie":"10","ciclo":"10a","desp":1.5,"carga":-0.3},{"serie":"10","ciclo":"10a","desp":2.5,"carga":-0.05},{"serie":"10","ciclo":"10a","desp":3.5,"carga":0.2},{"serie":"10","ciclo":"10a","desp":4.5,"carga":0.42},{"serie":"10","ciclo":"10a","desp":5.5,"carga":0.6},{"serie":"10","ciclo":"10a","desp":6.3,"carga":0.75},{"serie":"10","ciclo":"10a","desp":7.3,"carga":1.0},{"serie":"10","ciclo":"10a","desp":8.3,"carga":1.4},{"serie":"10","ciclo":"10a","desp":9.1,"carga":2.0},{"serie":"10","ciclo":"10a","desp":9.7,"carga":2.6},{"serie":"10","ciclo":"10a","desp":10.0,"carga":3.2},{"serie":"10","ciclo":"10a","desp":10.06,"carga":3.9},{"serie":"10","ciclo":"10a","desp":9.5,"carga":3.72},{"serie":"10","ciclo":"10a","desp":8.9,"carga":3.49},{"serie":"10","ciclo":"10a","desp":8.3,"carga":3.19},{"serie":"10","ciclo":"10a","desp":7.9,"carga":2.95},{"serie":"10","ciclo":"10a","desp":7.5,"carga":2.54},{"serie":"10","ciclo":"10a","desp":7.1,"carga":2.3},{"serie":"10","ciclo":"10a","desp":6.7,"carga":2.0},{"serie":"10","ciclo":"10a","desp":6.3,"carga":1.71},{"serie":"10","ciclo":"10a","desp":6.0,"carga":1.47},{"serie":"10","ciclo":"10a","desp":5.4,"carga":1.23},{"serie":"10","ciclo":"10a","desp":4.4,"carga":1.0},{"serie":"10","ciclo":"10a","desp":3.4,"carga":0.82},{"serie":"10","ciclo":"10a","desp":2.4,"carga":0.67},{"serie":"10","ciclo":"10a","desp":0.5,"carga":0.46},{"serie":"10","ciclo":"10a","desp":-1.5,"carga":0.28},{"serie":"10","ciclo":"10a","desp":-3.4,"carga":0.11},{"serie":"10","ciclo":"10a","desp":-5.0,"carga":-0.15},{"serie":"10","ciclo":"10a","desp":-6.5,"carga":-0.55},{"serie":"10","ciclo":"10a","desp":-7.7,"carga":-1.14},{"serie":"10","ciclo":"10a","desp":-8.5,"carga":-1.85},{"serie":"10","ciclo":"10a","desp":-9.1,"carga":-2.44},{"serie":"10","ciclo":"10a","desp":-9.7,"carga":-3.33},{"serie":"10","ciclo":"10a","desp":-10.1,"carga":-3.92},{"serie":"10","ciclo":"10a","desp":-10.2,"carga":-4.52},{"serie":"10","ciclo":"10a","desp":-10.0,"carga":-5.12},

      {"serie":"10","ciclo":"10b","desp":-10.2,"carga":-4.5},{"serie":"10","ciclo":"10b","desp":-9.5,"carga":-4.2},{"serie":"10","ciclo":"10b","desp":-8.6,"carga":-3.75},{"serie":"10","ciclo":"10b","desp":-7.6,"carga":-3.25},{"serie":"10","ciclo":"10b","desp":-6.6,"carga":-2.75},{"serie":"10","ciclo":"10b","desp":-5.6,"carga":-2.3},{"serie":"10","ciclo":"10b","desp":-4.5,"carga":-1.85},{"serie":"10","ciclo":"10b","desp":-3.3,"carga":-1.45},{"serie":"10","ciclo":"10b","desp":-2.0,"carga":-1.1},{"serie":"10","ciclo":"10b","desp":-0.6,"carga":-0.8},{"serie":"10","ciclo":"10b","desp":0.8,"carga":-0.45},{"serie":"10","ciclo":"10b","desp":2.0,"carga":-0.15},{"serie":"10","ciclo":"10b","desp":3.2,"carga":0.1},{"serie":"10","ciclo":"10b","desp":4.4,"carga":0.32},{"serie":"10","ciclo":"10b","desp":5.6,"carga":0.55},{"serie":"10","ciclo":"10b","desp":6.6,"carga":0.8},{"serie":"10","ciclo":"10b","desp":7.5,"carga":1.1},{"serie":"10","ciclo":"10b","desp":8.3,"carga":1.5},{"serie":"10","ciclo":"10b","desp":8.9,"carga":2.0},{"serie":"10","ciclo":"10b","desp":9.4,"carga":2.6},{"serie":"10","ciclo":"10b","desp":9.7,"carga":3.0},{"serie":"10","ciclo":"10b","desp":9.9,"carga":3.45},{"serie":"10","ciclo":"10b","desp":9.4,"carga":3.25},{"serie":"10","ciclo":"10b","desp":8.8,"carga":2.95},{"serie":"10","ciclo":"10b","desp":8.2,"carga":2.6},{"serie":"10","ciclo":"10b","desp":7.6,"carga":2.2},{"serie":"10","ciclo":"10b","desp":7.0,"carga":1.8},{"serie":"10","ciclo":"10b","desp":6.3,"carga":1.45},{"serie":"10","ciclo":"10b","desp":5.5,"carga":1.15},{"serie":"10","ciclo":"10b","desp":4.5,"carga":0.92},{"serie":"10","ciclo":"10b","desp":3.3,"carga":0.72},{"serie":"10","ciclo":"10b","desp":2.0,"carga":0.55},{"serie":"10","ciclo":"10b","desp":0.5,"carga":0.38},{"serie":"10","ciclo":"10b","desp":-1.0,"carga":0.22},{"serie":"10","ciclo":"10b","desp":-2.5,"carga":0.05},{"serie":"10","ciclo":"10b","desp":-4.0,"carga":-0.15},{"serie":"10","ciclo":"10b","desp":-5.3,"carga":-0.45},{"serie":"10","ciclo":"10b","desp":-6.5,"carga":-0.9},{"serie":"10","ciclo":"10b","desp":-7.5,"carga":-1.45},{"serie":"10","ciclo":"10b","desp":-8.3,"carga":-2.05},{"serie":"10","ciclo":"10b","desp":-9.0,"carga":-2.7},{"serie":"10","ciclo":"10b","desp":-9.6,"carga":-3.4},{"serie":"10","ciclo":"10b","desp":-10.0,"carga":-4.0},{"serie":"10","ciclo":"10b","desp":-10.2,"carga":-4.5},

      {"serie":"7","ciclo":"7a","desp":-7.07,"carga":-4.28},{"serie":"7","ciclo":"7a","desp":-6.5,"carga":-4.16},{"serie":"7","ciclo":"7a","desp":-5.95,"carga":-3.8},{"serie":"7","ciclo":"7a","desp":-5.4,"carga":-3.39},{"serie":"7","ciclo":"7a","desp":-4.84,"carga":-2.86},{"serie":"7","ciclo":"7a","desp":-4.3,"carga":-2.33},{"serie":"7","ciclo":"7a","desp":-3.7,"carga":-1.86},{"serie":"7","ciclo":"7a","desp":-3.0,"carga":-1.39},{"serie":"7","ciclo":"7a","desp":-2.0,"carga":-0.95},{"serie":"7","ciclo":"7a","desp":-1.0,"carga":-0.6},{"serie":"7","ciclo":"7a","desp":0.0,"carga":-0.32},{"serie":"7","ciclo":"7a","desp":1.0,"carga":-0.1},{"serie":"7","ciclo":"7a","desp":2.0,"carga":0.1},{"serie":"7","ciclo":"7a","desp":3.0,"carga":0.3},{"serie":"7","ciclo":"7a","desp":4.0,"carga":0.55},{"serie":"7","ciclo":"7a","desp":4.9,"carga":0.85},{"serie":"7","ciclo":"7a","desp":5.9,"carga":1.16},{"serie":"7","ciclo":"7a","desp":6.5,"carga":1.57},{"serie":"7","ciclo":"7a","desp":6.8,"carga":2.04},{"serie":"7","ciclo":"7a","desp":7.0,"carga":2.63},{"serie":"7","ciclo":"7a","desp":7.05,"carga":3.02},{"serie":"7","ciclo":"7a","desp":6.33,"carga":2.75},{"serie":"7","ciclo":"7a","desp":5.77,"carga":2.34},{"serie":"7","ciclo":"7a","desp":5.4,"carga":1.92},{"serie":"7","ciclo":"7a","desp":4.8,"carga":1.45},{"serie":"7","ciclo":"7a","desp":4.1,"carga":0.98},{"serie":"7","ciclo":"7a","desp":3.2,"carga":0.68},{"serie":"7","ciclo":"7a","desp":2.4,"carga":0.5},{"serie":"7","ciclo":"7a","desp":1.2,"carga":0.3},{"serie":"7","ciclo":"7a","desp":0.0,"carga":0.15},{"serie":"7","ciclo":"7a","desp":-1.2,"carga":-0.05},{"serie":"7","ciclo":"7a","desp":-2.4,"carga":-0.3},{"serie":"7","ciclo":"7a","desp":-3.5,"carga":-0.55},{"serie":"7","ciclo":"7a","desp":-4.46,"carga":-0.8},{"serie":"7","ciclo":"7a","desp":-5.2,"carga":-1.15},{"serie":"7","ciclo":"7a","desp":-5.95,"carga":-1.68},{"serie":"7","ciclo":"7a","desp":-6.3,"carga":-2.15},{"serie":"7","ciclo":"7a","desp":-6.5,"carga":-2.63},{"serie":"7","ciclo":"7a","desp":-6.9,"carga":-3.04},{"serie":"7","ciclo":"7a","desp":-7.07,"carga":-3.69},{"serie":"7","ciclo":"7a","desp":-7.07,"carga":-4.28},

      {"serie":"7","ciclo":"7b","desp":-6.8,"carga":-3.85},{"serie":"7","ciclo":"7b","desp":-6.3,"carga":-3.6},{"serie":"7","ciclo":"7b","desp":-5.7,"carga":-3.2},{"serie":"7","ciclo":"7b","desp":-5.1,"carga":-2.7},{"serie":"7","ciclo":"7b","desp":-4.5,"carga":-2.2},{"serie":"7","ciclo":"7b","desp":-3.8,"carga":-1.7},{"serie":"7","ciclo":"7b","desp":-3.0,"carga":-1.25},{"serie":"7","ciclo":"7b","desp":-2.0,"carga":-0.85},{"serie":"7","ciclo":"7b","desp":-1.0,"carga":-0.5},{"serie":"7","ciclo":"7b","desp":0.0,"carga":-0.22},{"serie":"7","ciclo":"7b","desp":1.0,"carga":0.02},{"serie":"7","ciclo":"7b","desp":2.0,"carga":0.22},{"serie":"7","ciclo":"7b","desp":3.0,"carga":0.42},{"serie":"7","ciclo":"7b","desp":4.0,"carga":0.68},{"serie":"7","ciclo":"7b","desp":4.8,"carga":0.95},{"serie":"7","ciclo":"7b","desp":5.6,"carga":1.3},{"serie":"7","ciclo":"7b","desp":6.2,"carga":1.7},{"serie":"7","ciclo":"7b","desp":6.6,"carga":2.2},{"serie":"7","ciclo":"7b","desp":6.8,"carga":2.7},{"serie":"7","ciclo":"7b","desp":6.2,"carga":2.4},{"serie":"7","ciclo":"7b","desp":5.6,"carga":2.0},{"serie":"7","ciclo":"7b","desp":5.1,"carga":1.6},{"serie":"7","ciclo":"7b","desp":4.5,"carga":1.2},{"serie":"7","ciclo":"7b","desp":3.8,"carga":0.85},{"serie":"7","ciclo":"7b","desp":2.8,"carga":0.55},{"serie":"7","ciclo":"7b","desp":1.8,"carga":0.35},{"serie":"7","ciclo":"7b","desp":0.6,"carga":0.15},{"serie":"7","ciclo":"7b","desp":-0.6,"carga":-0.05},{"serie":"7","ciclo":"7b","desp":-1.8,"carga":-0.3},{"serie":"7","ciclo":"7b","desp":-3.0,"carga":-0.6},{"serie":"7","ciclo":"7b","desp":-4.0,"carga":-0.9},{"serie":"7","ciclo":"7b","desp":-4.9,"carga":-1.3},{"serie":"7","ciclo":"7b","desp":-5.6,"carga":-1.8},{"serie":"7","ciclo":"7b","desp":-6.1,"carga":-2.3},{"serie":"7","ciclo":"7b","desp":-6.5,"carga":-2.9},{"serie":"7","ciclo":"7b","desp":-6.8,"carga":-3.4},{"serie":"7","ciclo":"7b","desp":-6.8,"carga":-3.85},

      {"serie":"5","ciclo":"5a","desp":-5.2,"carga":-3.52},{"serie":"5","ciclo":"5a","desp":-4.65,"carga":-3.1},{"serie":"5","ciclo":"5a","desp":-4.1,"carga":-2.63},{"serie":"5","ciclo":"5a","desp":-3.55,"carga":-2.15},{"serie":"5","ciclo":"5a","desp":-2.8,"carga":-1.74},{"serie":"5","ciclo":"5a","desp":-2.0,"carga":-1.3},{"serie":"5","ciclo":"5a","desp":-1.2,"carga":-0.9},{"serie":"5","ciclo":"5a","desp":-0.4,"carga":-0.55},{"serie":"5","ciclo":"5a","desp":0.4,"carga":-0.25},{"serie":"5","ciclo":"5a","desp":1.2,"carga":0.0},{"serie":"5","ciclo":"5a","desp":2.0,"carga":0.25},{"serie":"5","ciclo":"5a","desp":2.8,"carga":0.5},{"serie":"5","ciclo":"5a","desp":3.5,"carga":0.72},{"serie":"5","ciclo":"5a","desp":4.1,"carga":0.86},{"serie":"5","ciclo":"5a","desp":4.47,"carga":1.16},{"serie":"5","ciclo":"5a","desp":4.8,"carga":1.62},{"serie":"5","ciclo":"5a","desp":4.93,"carga":1.98},{"serie":"5","ciclo":"5a","desp":4.93,"carga":2.31},{"serie":"5","ciclo":"5a","desp":4.47,"carga":1.98},{"serie":"5","ciclo":"5a","desp":4.1,"carga":1.57},{"serie":"5","ciclo":"5a","desp":3.7,"carga":1.16},{"serie":"5","ciclo":"5a","desp":3.2,"carga":0.74},{"serie":"5","ciclo":"5a","desp":2.6,"carga":0.5},{"serie":"5","ciclo":"5a","desp":1.8,"carga":0.3},{"serie":"5","ciclo":"5a","desp":1.0,"carga":0.1},{"serie":"5","ciclo":"5a","desp":0.2,"carga":-0.15},{"serie":"5","ciclo":"5a","desp":-0.7,"carga":-0.4},{"serie":"5","ciclo":"5a","desp":-1.6,"carga":-0.7},{"serie":"5","ciclo":"5a","desp":-2.5,"carga":-1.0},{"serie":"5","ciclo":"5a","desp":-3.2,"carga":-1.2},{"serie":"5","ciclo":"5a","desp":-3.72,"carga":-1.33},{"serie":"5","ciclo":"5a","desp":-4.46,"carga":-1.8},{"serie":"5","ciclo":"5a","desp":-4.84,"carga":-2.33},{"serie":"5","ciclo":"5a","desp":-5.0,"carga":-2.86},{"serie":"5","ciclo":"5a","desp":-5.2,"carga":-3.52},

      {"serie":"5","ciclo":"5b","desp":-5.0,"carga":-3.2},{"serie":"5","ciclo":"5b","desp":-4.5,"carga":-2.85},{"serie":"5","ciclo":"5b","desp":-3.9,"carga":-2.4},{"serie":"5","ciclo":"5b","desp":-3.3,"carga":-1.95},{"serie":"5","ciclo":"5b","desp":-2.6,"carga":-1.5},{"serie":"5","ciclo":"5b","desp":-1.8,"carga":-1.1},{"serie":"5","ciclo":"5b","desp":-1.0,"carga":-0.72},{"serie":"5","ciclo":"5b","desp":-0.2,"carga":-0.4},{"serie":"5","ciclo":"5b","desp":0.6,"carga":-0.1},{"serie":"5","ciclo":"5b","desp":1.4,"carga":0.15},{"serie":"5","ciclo":"5b","desp":2.2,"carga":0.4},{"serie":"5","ciclo":"5b","desp":2.9,"carga":0.62},{"serie":"5","ciclo":"5b","desp":3.6,"carga":0.85},{"serie":"5","ciclo":"5b","desp":4.1,"carga":1.15},{"serie":"5","ciclo":"5b","desp":4.5,"carga":1.6},{"serie":"5","ciclo":"5b","desp":4.7,"carga":2.05},{"serie":"5","ciclo":"5b","desp":4.3,"carga":1.75},{"serie":"5","ciclo":"5b","desp":3.9,"carga":1.35},{"serie":"5","ciclo":"5b","desp":3.4,"carga":0.95},{"serie":"5","ciclo":"5b","desp":2.8,"carga":0.65},{"serie":"5","ciclo":"5b","desp":2.0,"carga":0.4},{"serie":"5","ciclo":"5b","desp":1.2,"carga":0.18},{"serie":"5","ciclo":"5b","desp":0.4,"carga":-0.08},{"serie":"5","ciclo":"5b","desp":-0.5,"carga":-0.35},{"serie":"5","ciclo":"5b","desp":-1.4,"carga":-0.65},{"serie":"5","ciclo":"5b","desp":-2.3,"carga":-0.95},{"serie":"5","ciclo":"5b","desp":-3.1,"carga":-1.25},{"serie":"5","ciclo":"5b","desp":-3.8,"carga":-1.6},{"serie":"5","ciclo":"5b","desp":-4.4,"carga":-2.1},{"serie":"5","ciclo":"5b","desp":-4.8,"carga":-2.65},{"serie":"5","ciclo":"5b","desp":-5.0,"carga":-3.2},

      {"serie":"4","ciclo":"4a","desp":-4.1,"carga":-2.98},{"serie":"4","ciclo":"4a","desp":-3.55,"carga":-2.86},{"serie":"4","ciclo":"4a","desp":-3.16,"carga":-2.45},{"serie":"4","ciclo":"4a","desp":-2.8,"carga":-2.1},{"serie":"4","ciclo":"4a","desp":-2.2,"carga":-1.65},{"serie":"4","ciclo":"4a","desp":-1.5,"carga":-1.2},{"serie":"4","ciclo":"4a","desp":-0.8,"carga":-0.8},{"serie":"4","ciclo":"4a","desp":0.0,"carga":-0.45},{"serie":"4","ciclo":"4a","desp":0.8,"carga":-0.1},{"serie":"4","ciclo":"4a","desp":1.6,"carga":0.2},{"serie":"4","ciclo":"4a","desp":2.4,"carga":0.45},{"serie":"4","ciclo":"4a","desp":3.0,"carga":0.6},{"serie":"4","ciclo":"4a","desp":3.4,"carga":0.74},{"serie":"4","ciclo":"4a","desp":3.8,"carga":1.16},{"serie":"4","ciclo":"4a","desp":3.98,"carga":1.57},{"serie":"4","ciclo":"4a","desp":3.98,"carga":1.98},{"serie":"4","ciclo":"4a","desp":3.53,"carga":1.57},{"serie":"4","ciclo":"4a","desp":3.15,"carga":1.16},{"serie":"4","ciclo":"4a","desp":2.8,"carga":0.81},{"serie":"4","ciclo":"4a","desp":2.4,"carga":0.5},{"serie":"4","ciclo":"4a","desp":1.7,"carga":0.25},{"serie":"4","ciclo":"4a","desp":0.9,"carga":0.0},{"serie":"4","ciclo":"4a","desp":0.1,"carga":-0.3},{"serie":"4","ciclo":"4a","desp":-0.8,"carga":-0.6},{"serie":"4","ciclo":"4a","desp":-1.7,"carga":-0.95},{"serie":"4","ciclo":"4a","desp":-2.5,"carga":-1.3},{"serie":"4","ciclo":"4a","desp":-3.34,"carga":-1.62},{"serie":"4","ciclo":"4a","desp":-3.9,"carga":-2.03},{"serie":"4","ciclo":"4a","desp":-4.1,"carga":-2.45},{"serie":"4","ciclo":"4a","desp":-4.1,"carga":-2.98},

      {"serie":"2","ciclo":"2a","desp":-2.25,"carga":-1.91},{"serie":"2","ciclo":"2a","desp":-1.9,"carga":-1.45},{"serie":"2","ciclo":"2a","desp":-1.4,"carga":-0.95},{"serie":"2","ciclo":"2a","desp":-0.8,"carga":-0.45},{"serie":"2","ciclo":"2a","desp":-0.2,"carga":0.0},{"serie":"2","ciclo":"2a","desp":0.4,"carga":0.35},{"serie":"2","ciclo":"2a","desp":1.0,"carga":0.7},{"serie":"2","ciclo":"2a","desp":1.5,"carga":0.98},{"serie":"2","ciclo":"2a","desp":1.86,"carga":1.14},{"serie":"2","ciclo":"2a","desp":1.7,"carga":0.9},{"serie":"2","ciclo":"2a","desp":1.3,"carga":0.55},{"serie":"2","ciclo":"2a","desp":0.8,"carga":0.2},{"serie":"2","ciclo":"2a","desp":0.2,"carga":-0.2},{"serie":"2","ciclo":"2a","desp":-0.4,"carga":-0.65},{"serie":"2","ciclo":"2a","desp":-1.0,"carga":-1.1},{"serie":"2","ciclo":"2a","desp":-1.6,"carga":-1.5},{"serie":"2","ciclo":"2a","desp":-2.1,"carga":-1.8},{"serie":"2","ciclo":"2a","desp":-2.25,"carga":-1.91},

      {"serie":"2","ciclo":"2b","desp":-2.05,"carga":-2.0},{"serie":"2","ciclo":"2b","desp":-1.8,"carga":-1.6},{"serie":"2","ciclo":"2b","desp":-1.3,"carga":-1.05},{"serie":"2","ciclo":"2b","desp":-0.7,"carga":-0.55},{"serie":"2","ciclo":"2b","desp":-0.1,"carga":-0.08},{"serie":"2","ciclo":"2b","desp":0.5,"carga":0.3},{"serie":"2","ciclo":"2b","desp":1.1,"carga":0.62},{"serie":"2","ciclo":"2b","desp":1.6,"carga":0.95},{"serie":"2","ciclo":"2b","desp":1.3,"carga":0.65},{"serie":"2","ciclo":"2b","desp":0.8,"carga":0.28},{"serie":"2","ciclo":"2b","desp":0.2,"carga":-0.15},{"serie":"2","ciclo":"2b","desp":-0.5,"carga":-0.7},{"serie":"2","ciclo":"2b","desp":-1.1,"carga":-1.25},{"serie":"2","ciclo":"2b","desp":-1.7,"carga":-1.75},{"serie":"2","ciclo":"2b","desp":-2.05,"carga":-2.0},

      {"serie":"1","ciclo":"1a","desp":-1.07,"carga":-1.26},{"serie":"1","ciclo":"1a","desp":-0.75,"carga":-0.85},{"serie":"1","ciclo":"1a","desp":-0.4,"carga":-0.45},{"serie":"1","ciclo":"1a","desp":-0.05,"carga":-0.05},{"serie":"1","ciclo":"1a","desp":0.3,"carga":0.3},{"serie":"1","ciclo":"1a","desp":0.65,"carga":0.62},{"serie":"1","ciclo":"1a","desp":0.88,"carga":0.82},{"serie":"1","ciclo":"1a","desp":0.75,"carga":0.6},{"serie":"1","ciclo":"1a","desp":0.45,"carga":0.25},{"serie":"1","ciclo":"1a","desp":0.1,"carga":-0.12},{"serie":"1","ciclo":"1a","desp":-0.25,"carga":-0.5},{"serie":"1","ciclo":"1a","desp":-0.6,"carga":-0.85},{"serie":"1","ciclo":"1a","desp":-0.9,"carga":-1.1},{"serie":"1","ciclo":"1a","desp":-1.07,"carga":-1.26}
    ]
  },
  "resolve": {"axis": {"x": "independent", "y": "independent"}},
  "layer": [
    {
      "data": {"name": "lazos"},
      "transform": [{"filter": {"field": "serie", "oneOf": ["40", "30", "20"]}}],
      "mark": {"type": "line", "strokeWidth": 2.2, "strokeJoin": "round", "strokeCap": "round"},
      "encoding": {
        "x": {
          "field": "desp", "type": "quantitative",
          "scale": {"domain": [-45, 45], "nice": false, "zero": false},
          "axis": {
            "orient": "bottom",
            "values": [-45, -30, -15, 0, 15, 30, 45],
            "grid": true, "gridColor": "#000000", "gridWidth": 1,
            "gridDash": {"condition": {"test": "datum.value === 0", "value": []}, "value": [6, 6]},
            "domain": false, "ticks": false, "labels": false,
            "title": "Desp.[mm]", "titleColor": "#FF0000", "titleFont": "Liberation Sans",
            "titleFontSize": 41, "titleFontWeight": "bold",
            "titleX": 1526, "titleY": -429.5, "titleAlign": "center", "titleBaseline": "alphabetic", "titleAngle": 0,
            "zindex": 0
          }
        },
        "y": {
          "field": "carga", "type": "quantitative",
          "scale": {"domain": [-10, 10], "nice": false, "zero": false},
          "axis": {
            "orient": "left",
            "values": [-10, -8, -6, -4, -2, 0, 2, 4, 6, 8, 10],
            "grid": true, "gridColor": "#000000", "gridWidth": 1,
            "gridDash": {"condition": {"test": "datum.value === 0", "value": []}, "value": [6, 6]},
            "domain": false, "ticks": false, "labels": false,
            "title": "Carga Lat.[tn]", "titleColor": "#FF0000", "titleFont": "Liberation Sans",
            "titleFontSize": 41, "titleFontWeight": "bold",
            "titleX": -53, "titleY": 564, "titleAngle": 270, "titleAlign": "center", "titleBaseline": "alphabetic",
            "zindex": 0
          }
        },
        "color": {
          "field": "serie", "type": "nominal",
          "scale": {
            "domain": ["40", "30", "20", "15", "10", "7", "5", "4", "2", "1"],
            "range": ["#00FF00", "#FFFF00", "#FF0000", "#CCFFCC", "#00CCFF", "#008080", "#0000FF", "#33CCFF", "#FF0000", "#008000"]
          },
          "legend": null
        },
        "detail": {"field": "ciclo"},
        "order": {"value": null}
      }
    },
    {
      "data": {"name": "lazos"},
      "transform": [{"filter": {"field": "serie", "oneOf": ["15"]}}],
      "mark": {"type": "line", "strokeWidth": 2.5, "strokeJoin": "round", "strokeCap": "round"},
      "encoding": {
        "x": {"field": "desp", "type": "quantitative", "scale": {"domain": [-45, 45], "nice": false, "zero": false}, "axis": null},
        "y": {"field": "carga", "type": "quantitative", "scale": {"domain": [-10, 10], "nice": false, "zero": false}, "axis": null},
        "color": {
          "field": "serie", "type": "nominal",
          "scale": {
            "domain": ["40", "30", "20", "15", "10", "7", "5", "4", "2", "1"],
            "range": ["#00FF00", "#FFFF00", "#FF0000", "#CCFFCC", "#00CCFF", "#008080", "#0000FF", "#33CCFF", "#FF0000", "#008000"]
          },
          "legend": null
        },
        "detail": {"field": "ciclo"},
        "order": {"value": null}
      }
    },
    {
      "data": {"name": "lazos"},
      "transform": [{"filter": {"field": "serie", "oneOf": ["10", "7", "5", "4"]}}],
      "mark": {"type": "line", "strokeWidth": 3.2, "strokeJoin": "round", "strokeCap": "round"},
      "encoding": {
        "x": {"field": "desp", "type": "quantitative", "scale": {"domain": [-45, 45], "nice": false, "zero": false}, "axis": null},
        "y": {"field": "carga", "type": "quantitative", "scale": {"domain": [-10, 10], "nice": false, "zero": false}, "axis": null},
        "color": {
          "field": "serie", "type": "nominal",
          "scale": {
            "domain": ["40", "30", "20", "15", "10", "7", "5", "4", "2", "1"],
            "range": ["#00FF00", "#FFFF00", "#FF0000", "#CCFFCC", "#00CCFF", "#008080", "#0000FF", "#33CCFF", "#FF0000", "#008000"]
          },
          "legend": null
        },
        "detail": {"field": "ciclo"},
        "order": {"value": null}
      }
    },
    {
      "data": {"name": "lazos"},
      "transform": [{"filter": {"field": "serie", "oneOf": ["2", "1"]}}],
      "mark": {"type": "line", "strokeWidth": 6, "strokeJoin": "round", "strokeCap": "round"},
      "encoding": {
        "x": {"field": "desp", "type": "quantitative", "scale": {"domain": [-45, 45], "nice": false, "zero": false}, "axis": null},
        "y": {"field": "carga", "type": "quantitative", "scale": {"domain": [-10, 10], "nice": false, "zero": false}, "axis": null},
        "color": {
          "field": "serie", "type": "nominal",
          "scale": {
            "domain": ["40", "30", "20", "15", "10", "7", "5", "4", "2", "1"],
            "range": ["#00FF00", "#FFFF00", "#FF0000", "#CCFFCC", "#00CCFF", "#008080", "#0000FF", "#33CCFF", "#FF0000", "#008000"]
          },
          "legend": null
        },
        "detail": {"field": "ciclo"},
        "order": {"value": null}
      }
    },
    {
      "data": {"values": [{"texto": "carga-desplazamiento", "desp": -37.43, "carga": 9.21}]},
      "mark": {"type": "text", "align": "left", "baseline": "alphabetic", "font": "Liberation Sans", "fontSize": 54, "fontWeight": "bold", "fill": "#FF0000"},
      "encoding": {
        "x": {
          "field": "desp", "type": "quantitative",
          "scale": {"domain": [-45, 45], "nice": false, "zero": false},
          "axis": {
            "orient": "bottom",
            "values": [-45, -30, -15, 0, 15, 30, 45],
            "labelExpr": "datum.value < 0 ? '-' + abs(datum.value) : '' + datum.value",
            "offset": -564, "grid": false, "domain": false, "ticks": false, "tickSize": 0,
            "labelColor": "#FF0000", "labelFont": "Liberation Sans", "labelFontSize": 34, "labelFontWeight": "bold",
            "labelBaseline": "top", "labelPadding": 39, "labelFlush": false, "labelOverlap": false, "labelBound": false,
            "title": null, "zindex": 1
          }
        },
        "y": {
          "field": "carga", "type": "quantitative",
          "scale": {"domain": [-10, 10], "nice": false, "zero": false},
          "axis": {
            "orient": "left",
            "values": [-10, -8, -6, -4, -2, 0, 2, 4, 6, 8, 10],
            "labelExpr": "datum.value < 0 ? '-' + abs(datum.value) : '' + datum.value",
            "offset": -806.5, "grid": false, "domain": false, "ticks": false, "tickSize": 0,
            "labelColor": "#FF0000", "labelFont": "Liberation Sans", "labelFontSize": 34, "labelFontWeight": "bold",
            "labelAlign": "right", "labelBaseline": "middle", "labelPadding": 29, "labelOffset": 2.5,
            "labelFlush": false, "labelOverlap": false, "labelBound": false,
            "title": null, "zindex": 1
          }
        },
        "text": {"field": "texto"}
      }
    }
  ]
}
